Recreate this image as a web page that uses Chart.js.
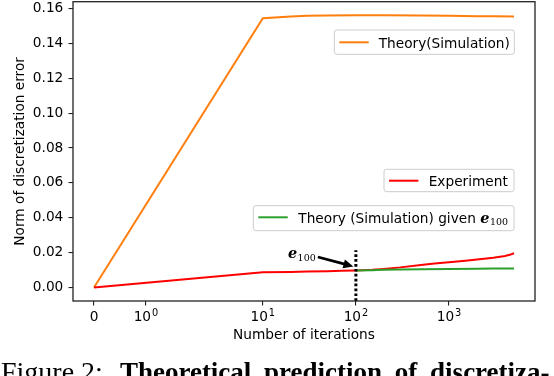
<!DOCTYPE html>
<html lang="en">
<head>
    <meta charset="UTF-8">
    <title>Norm of discretization error</title>
    <style>
        body { margin: 0; background: #fff; overflow: hidden; }
        .wrap { position: relative; width: 554px; height: 376px; overflow: hidden; }
        canvas { display: block; }
        .caption { position: absolute; left: 1px; top: 357.5px; font-family: "Liberation Serif", serif; font-size: 28px; line-height: 27px; white-space: nowrap; color: #000; }
        .caption b { font-size: 27px; margin-left: 10px; word-spacing: 6px; }
    </style>
</head>
<body>
    <div class="wrap">
        <canvas id="errChart" width="554" height="376"></canvas>
        <div class="caption">Figure 2: <b>Theoretical prediction of discretiza-</b></div>
    </div>

    <script src="https://cdn.jsdelivr.net/npm/chart.js"></script>
    <script>
        // values
        const theoryIters = [0, 10, 20, 30, 50, 100, 200, 500, 1000, 2000, 3000, 5000];
        const theoryErr = [0, 0.1545, 0.1555, 0.1559, 0.1561, 0.1562, 0.1562, 0.1561, 0.1559, 0.1557, 0.1556, 0.1555];

        const expIters = [0, 10, 20, 30, 50, 70, 100, 150, 200, 300, 500, 700, 1000, 1500, 2000, 3000, 4000, 4500, 5000];
        const expErr = [0, 0.0087, 0.0089, 0.0091, 0.0093, 0.0095, 0.0097, 0.0101, 0.0106, 0.0115, 0.0129, 0.0137, 0.0144, 0.0153, 0.0160, 0.0170, 0.0180, 0.0187, 0.0196];

        const givenIters = [100, 150, 200, 300, 500, 1000, 2000, 3000, 5000];
        const givenErr = [0.0097, 0.0099, 0.0101, 0.0103, 0.0104, 0.0106, 0.0107, 0.0108, 0.0108];

        const markerIter = 100;
        const markerTop = 0.0213;

        const xTicks = [0, 1, 10, 100, 1000];
        const xTickBase = ['0', '10', '10', '10', '10'];
        const xTickExp = ['', '0', '1', '2', '3'];
        const yTicks = [0, 0.02, 0.04, 0.06, 0.08, 0.10, 0.12, 0.14, 0.16];
        const yMin = -0.0078, yMax = 0.164;

        // symlog x axis (matplotlib style, linthresh 2)
        const LIN_THRESH = 2, LIN_SCALE = 1.115;
        function symlog(v) {
            const a = Math.abs(v);
            return Math.sign(v) * (a <= LIN_THRESH ? a / LIN_THRESH * LIN_SCALE : LIN_SCALE + Math.log10(a / LIN_THRESH));
        }
        function symexp(t) {
            const a = Math.abs(t);
            return Math.sign(t) * (a <= LIN_SCALE ? a / LIN_SCALE * LIN_THRESH : LIN_THRESH * Math.pow(10, a - LIN_SCALE));
        }

        class SymlogScale extends Chart.Scale {
            determineDataLimits() {
                const { min, max } = this.getMinMax(false);
                const lo = symlog(min), hi = symlog(max), m = (hi - lo) * 0.05;
                this.min = symexp(lo - m);
                this.max = symexp(hi + m);
            }
            buildTicks() { return xTicks.map(v => ({ value: v })); }
            getLabelForValue(v) { return String(v); }
            configure() {
                super.configure();
                this._lo = symlog(this.min);
                this._span = symlog(this.max) - this._lo;
            }
            getPixelForValue(v) { return this.getPixelForDecimal((symlog(v) - this._lo) / this._span); }
            getValueForPixel(p) { return symexp(this.getDecimalForPixel(p) * this._span + this._lo); }
        }
        SymlogScale.id = 'symlog';
        SymlogScale.defaults = {};
        Chart.register(SymlogScale);

        const pts = (xs, ys) => xs.map((v, i) => ({ x: v, y: ys[i] }));

        const FONT = '"DejaVu Sans"';
        Chart.defaults.font.family = FONT;
        Chart.defaults.font.size = 13.7;
        Chart.defaults.color = '#000';

        function drawE100(ctx, x, base) {
            ctx.font = 'italic bold 14.5px "DejaVu Serif"';
            ctx.fillText('e', x, base);
            const w = ctx.measureText('e').width;
            ctx.font = '9.5px "DejaVu Serif"';
            ctx.fillText('100', x + w + 0.5, base + 2.5);
        }

        function legendBox(ctx, x0, y0, x1, y1, color, lineY) {
            ctx.beginPath();
            ctx.roundRect(x0, y0, x1 - x0, y1 - y0, 2.5);
            ctx.fillStyle = 'rgba(255,255,255,0.8)';
            ctx.fill();
            ctx.strokeStyle = '#cccccc';
            ctx.lineWidth = 1;
            ctx.stroke();
            ctx.beginPath();
            ctx.moveTo(x0 + 5, lineY);
            ctx.lineTo(x0 + 34.4, lineY);
            ctx.strokeStyle = color;
            ctx.lineWidth = 2;
            ctx.stroke();
            ctx.fillStyle = '#000';
        }

        const overlay = {
            id: 'overlay',
            afterDraw(chart) {
                const { ctx, chartArea: a, scales: { x, y } } = chart;
                ctx.save();

                // frame
                ctx.strokeStyle = '#222';
                ctx.lineWidth = 1.3;
                ctx.strokeRect(a.left, a.top, a.right - a.left, a.bottom - a.top);

                // x tick labels with superscript exponents
                ctx.fillStyle = '#000';
                ctx.textBaseline = 'alphabetic';
                ctx.textAlign = 'left';
                xTicks.forEach((v, i) => {
                    ctx.font = '13.7px ' + FONT;
                    const bw = ctx.measureText(xTickBase[i]).width;
                    ctx.font = '9.8px ' + FONT;
                    const ew = xTickExp[i] ? ctx.measureText(xTickExp[i]).width + 0.8 : 0;
                    const left = x.getPixelForValue(v) - (bw + ew) / 2;
                    ctx.font = '13.7px ' + FONT;
                    ctx.fillText(xTickBase[i], left, a.bottom + 20);
                    if (xTickExp[i]) {
                        ctx.font = '9.8px ' + FONT;
                        ctx.fillText(xTickExp[i], left + bw + 0.8, a.bottom + 15);
                    }
                });

                // e_100 annotation with arrow
                const px = x.getPixelForValue(markerIter);
                const py = y.getPixelForValue(expErr[expIters.indexOf(markerIter)]);
                const tx = px - 2.5, ty = py - 4;
                const sx = px - 38, sy = py - 13.5;
                const ang = Math.atan2(ty - sy, tx - sx);
                ctx.strokeStyle = '#000';
                ctx.lineWidth = 2.8;
                ctx.beginPath();
                ctx.moveTo(sx, sy);
                ctx.lineTo(tx - 8 * Math.cos(ang), ty - 8 * Math.sin(ang));
                ctx.stroke();
                ctx.beginPath();
                ctx.moveTo(tx, ty);
                ctx.lineTo(tx - 10 * Math.cos(ang) + 4.6 * Math.sin(ang), ty - 10 * Math.sin(ang) - 4.6 * Math.cos(ang));
                ctx.lineTo(tx - 10 * Math.cos(ang) - 4.6 * Math.sin(ang), ty - 10 * Math.sin(ang) + 4.6 * Math.cos(ang));
                ctx.closePath();
                ctx.fill();
                drawE100(ctx, px - 68, py - 12.3);

                // legends
                legendBox(ctx, 334.3, 30, 514.3, 54.3, '#ff7f0e', 42.3);
                ctx.font = '13.7px ' + FONT;
                ctx.fillText('Theory(Simulation)', 378.7, 47.5);

                legendBox(ctx, 384, 169.3, 514, 191.7, '#ff0000', 180.7);
                ctx.font = '13.7px ' + FONT;
                ctx.fillText('Experiment', 428.7, 185.9);

                legendBox(ctx, 253.3, 205.7, 514, 230.7, '#2ca02c', 217.3);
                ctx.font = '13.7px ' + FONT;
                const lbl = 'Theory (Simulation) given ';
                ctx.fillText(lbl, 298.3, 222.5);
                const lw = ctx.measureText(lbl).width;
                drawE100(ctx, 298.3 + lw, 222.5);

                ctx.restore();
            }
        };

        new Chart(document.getElementById('errChart'), {
            type: 'line',
            data: {
                datasets: [
                    { label: 'Theory(Simulation)', data: pts(theoryIters, theoryErr), borderColor: '#ff7f0e', order: 3 },
                    { label: 'Experiment', data: pts(expIters, expErr), borderColor: '#ff0000', order: 2 },
                    { label: 'Theory (Simulation) given e100', data: pts(givenIters, givenErr), borderColor: '#2ca02c', order: 1 },
                    { label: 'marker', data: [{ x: markerIter, y: yMin }, { x: markerIter, y: markerTop }],
                      borderColor: '#000', borderWidth: 3, borderDash: [2.7, 2.2], order: 0 }
                ]
            },
            options: {
                responsive: false,
                devicePixelRatio: 1,
                animation: false,
                layout: { padding: { left: 0, top: 1.7, right: 19, bottom: 0 } },
                elements: {
                    line: { borderWidth: 2, tension: 0, fill: false },
                    point: { radius: 0 }
                },
                plugins: { legend: { display: false }, tooltip: { enabled: false } },
                scales: {
                    x: {
                        type: 'symlog',
                        position: 'bottom',
                        border: { display: false },
                        grid: { drawOnChartArea: false, drawTicks: true, tickLength: 4.5, color: '#222', lineWidth: 1.1 },
                        ticks: { display: false },
                        title: { display: true, text: 'Number of iterations', padding: { top: 0, bottom: 32.3 } },
                        afterFit: s => { s.height = 75; s.paddingLeft = 0; s.paddingRight = 0; }
                    },
                    y: {
                        type: 'linear',
                        min: yMin,
                        max: yMax,
                        border: { display: false },
                        grid: { drawOnChartArea: false, drawTicks: true, tickLength: 4.5, color: '#222', lineWidth: 1.1 },
                        ticks: { padding: 5.2, callback: v => v.toFixed(2) },
                        afterBuildTicks: s => { s.ticks = yTicks.map(v => ({ value: v })); },
                        title: { display: true, text: 'Norm of discretization error', padding: { top: 11.8, bottom: 0 } },
                        afterFit: s => { s.width = 73; s.paddingTop = 0; s.paddingBottom = 0; }
                    }
                }
            },
            plugins: [overlay]
        });
    </script>
</body>
</html>
